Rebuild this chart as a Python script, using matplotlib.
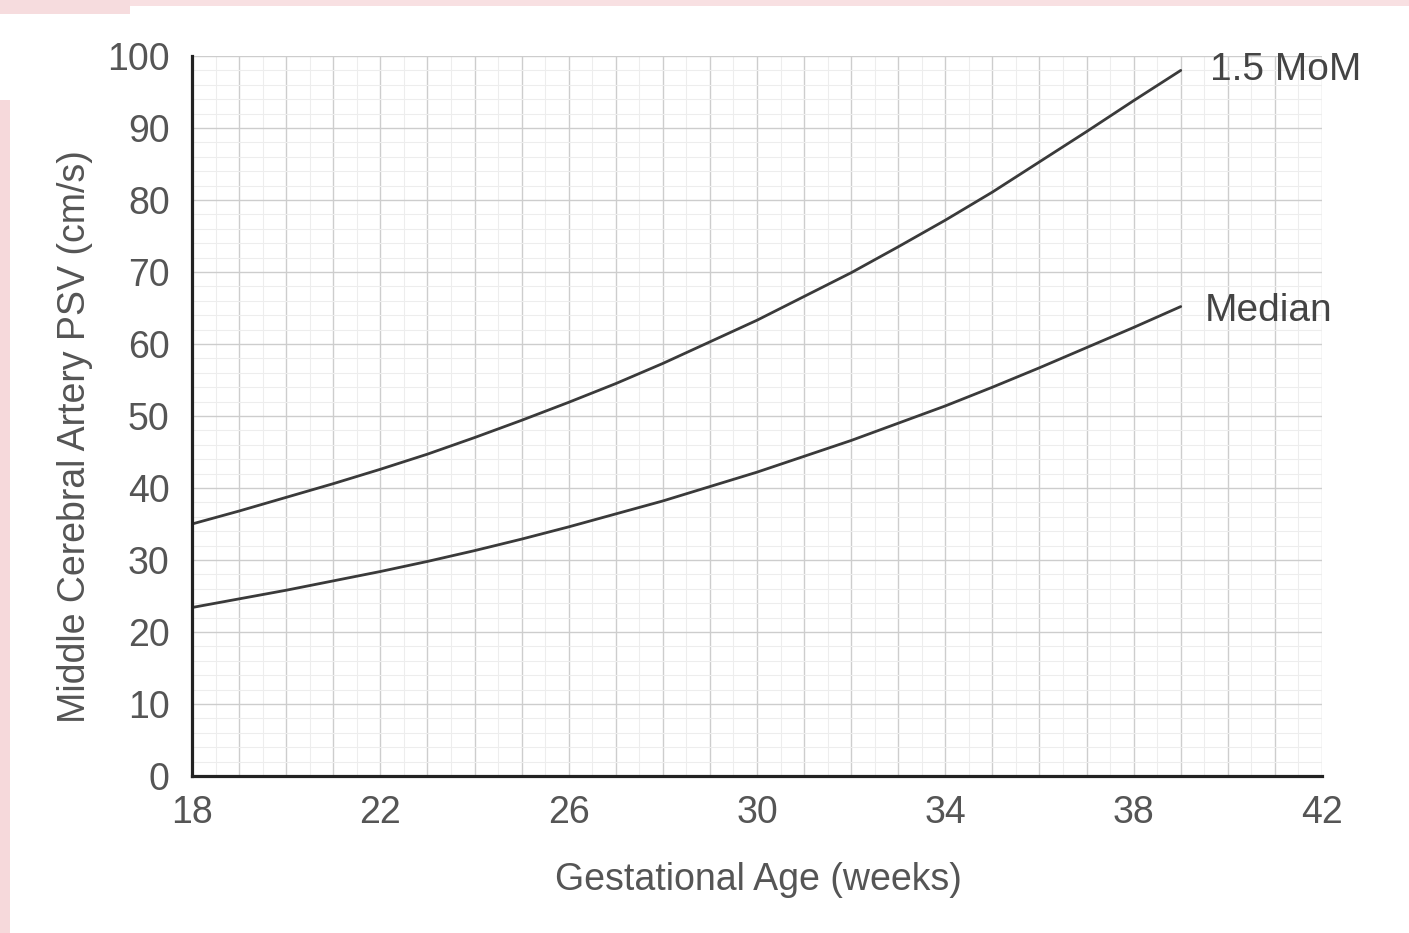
import matplotlib
matplotlib.use("Agg")
import matplotlib.pyplot as plt
from matplotlib.patches import Rectangle
from matplotlib.ticker import MultipleLocator

# Data
weeks = [18, 19, 20, 21, 22, 23, 24, 25, 26, 27, 28, 29, 30, 31, 32, 33, 34, 35, 36, 37, 38, 39]
median = [23.4, 24.6, 25.8, 27.1, 28.4, 29.8, 31.3, 32.9, 34.6, 36.4, 38.2, 40.2, 42.2,
          44.4, 46.6, 49.0, 51.4, 54.0, 56.7, 59.5, 62.3, 65.2]
mom15 = [35.0, 36.8, 38.7, 40.6, 42.6, 44.7, 47.0, 49.4, 51.9, 54.5, 57.3, 60.3, 63.3,
         66.6, 69.9, 73.5, 77.2, 81.1, 85.3, 89.5, 93.8, 98.0]
x_ticks = [18, 22, 26, 30, 34, 38, 42]
y_ticks = [0, 10, 20, 30, 40, 50, 60, 70, 80, 90, 100]
series_labels = ["1.5 MoM", "Median"]
x_title = "Gestational Age (weeks)"
y_title = "Middle Cerebral Artery PSV (cm/s)"

plt.rcParams['font.family'] = ['Liberation Sans', 'DejaVu Sans']

W, H = 1409, 933
fig = plt.figure(figsize=(W / 100, H / 100), dpi=100)
fig.patch.set_facecolor('white')

# pink tinted edges of the original scan
fig.add_artist(Rectangle((0, 0), 10 / W, 1 - 100 / H, transform=fig.transFigure,
                         facecolor='#f6d9db', edgecolor='none', zorder=0))
fig.add_artist(Rectangle((0, 1 - 6 / H), 1, 6 / H, transform=fig.transFigure,
                         facecolor='#f8e0e2', edgecolor='none', zorder=0))
fig.add_artist(Rectangle((0, 1 - 14 / H), 130 / W, 14 / H, transform=fig.transFigure,
                         facecolor='#f6dcde', edgecolor='none', zorder=0))

left, right = 192 / W, 1322 / W
bottom, top = 1 - 776 / H, 1 - 56 / H
ax = fig.add_axes([left, bottom, right - left, top - bottom])

ax.set_xlim(18, 42)
ax.set_ylim(0, 100)

ax.xaxis.set_minor_locator(MultipleLocator(0.5))
ax.yaxis.set_minor_locator(MultipleLocator(2))
ax.grid(which='major', color='#cdcdcd', linewidth=1.0)
ax.grid(which='minor', color='#ededed', linewidth=0.8)
ax.set_axisbelow(True)

all_weeks = list(range(18, 43))
ax.set_xticks(all_weeks)
ax.set_xticklabels([str(w) if w in x_ticks else '' for w in all_weeks])
ax.set_yticks(y_ticks)
ax.set_yticklabels([str(v) for v in y_ticks])
ax.tick_params(which='both', length=0)
ax.tick_params(axis='x', pad=14, labelsize=27, labelcolor='#555555')
ax.tick_params(axis='y', pad=16, labelsize=27, labelcolor='#555555')

for s in ['top', 'right']:
    ax.spines[s].set_visible(False)
for s in ['left', 'bottom']:
    ax.spines[s].set_linewidth(2.3)
    ax.spines[s].set_color('#222222')

ax.plot(weeks, mom15, color='#3a3a3a', linewidth=2.0, solid_capstyle='round')
ax.plot(weeks, median, color='#3a3a3a', linewidth=2.0, solid_capstyle='round')

ax.text(39.62, 98.0, series_labels[0], fontsize=28, color='#444444', va='center', ha='left',
        clip_on=False)
ax.text(39.52, 64.6, series_labels[1], fontsize=28, color='#444444', va='center', ha='left',
        clip_on=False)

fig.text(758 / W, 1 - 880 / H, x_title, fontsize=27, color='#555555', ha='center', va='center')
fig.text(75 / W, 1 - 437 / H, y_title, fontsize=27, color='#555555', ha='center', va='center',
         rotation=90)

fig.savefig('out.png', dpi=100, facecolor='white')
